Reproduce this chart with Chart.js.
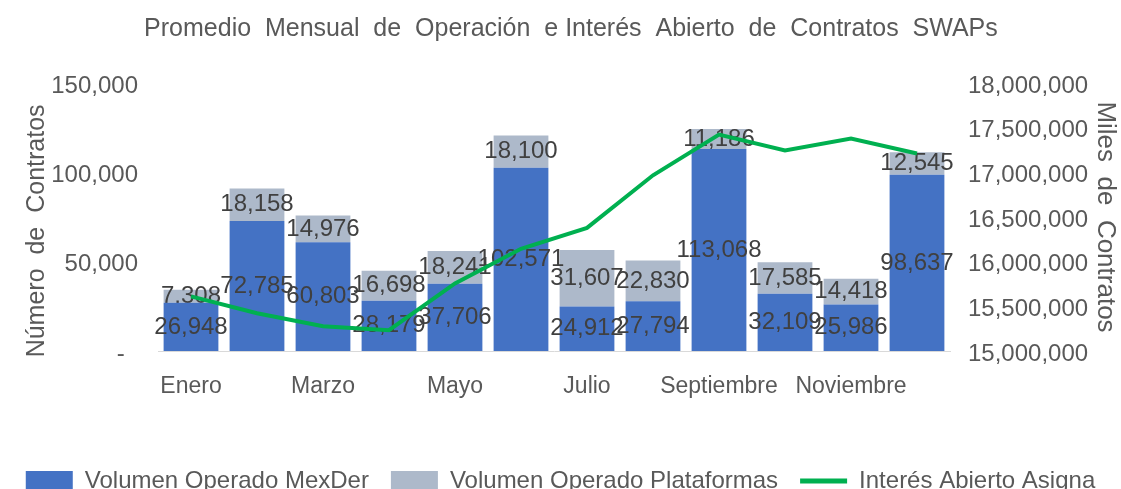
<!DOCTYPE html>
<html lang="es">
<head>
  <meta charset="utf-8">
  <title>Contratos SWAPs</title>
  <script src="https://cdn.jsdelivr.net/npm/chart.js@4.4.1/dist/chart.umd.min.js"></script>
  <style>
    html, body { margin: 0; padding: 0; background: #fff; overflow: hidden; }
    #wrap { position: relative; width: 1121px; height: 503px; }
  </style>
</head>
<body>
<div id="wrap"><canvas id="myChart"></canvas></div>
<script>
// datos
var meses = ['Enero', 'Febrero', 'Marzo', 'Abril', 'Mayo', 'Junio', 'Julio', 'Agosto',
             'Septiembre', 'Octubre', 'Noviembre', 'Diciembre'];
var volMexDer = [26948, 72785, 60803, 28179, 37706, 102571, 24912, 27794, 113068, 32109, 25986, 98637];
var volPlataformas = [7308, 18158, 14976, 16698, 18241, 18100, 31607, 22830, 11186, 17585, 14418, 12545];
var interesAbierto = [15611000, 15422000, 15278000, 15233000, 15756000, 16144000,
                      16378000, 16967000, 17422000, 17244000, 17378000, 17211000];

var FONT = "'Liberation Sans', Arial, sans-serif";
var GRIS = '#595959';

// etiquetas de valores al centro de cada segmento de barra
var etiquetas = {
  id: 'etiquetas',
  afterDatasetDraw: function(chart, args) {
    var meta = args.meta;
    if (meta.type !== 'bar') return;
    var ctx = chart.ctx;
    var data = chart.data.datasets[args.index].data;
    ctx.save();
    ctx.font = '24px ' + FONT;
    ctx.fillStyle = '#404040';
    ctx.textAlign = 'center';
    ctx.textBaseline = 'middle';
    meta.data.forEach(function(bar, i) {
      var y = (bar.y + bar.base) / 2;
      ctx.fillText(data[i].toLocaleString('en-US'), bar.x, y);
    });
    ctx.restore();
  }
};

var ctx = document.getElementById('myChart').getContext('2d');
var chart = new Chart(ctx, {
  data: {
    labels: meses,
    datasets: [
      {
        type: 'line',
        label: 'Interés Abierto Asigna',
        data: interesAbierto,
        yAxisID: 'y1',
        borderColor: '#00B050',
        backgroundColor: '#00B050',
        borderWidth: 4,
        pointRadius: 0,
        tension: 0,
        order: 0
      },
      {
        type: 'bar',
        label: 'Volumen Operado MexDer',
        data: volMexDer,
        yAxisID: 'y',
        backgroundColor: '#4472C4',
        categoryPercentage: 1,
        barPercentage: 0.83,
        order: 1
      },
      {
        type: 'bar',
        label: 'Volumen Operado Plataformas',
        data: volPlataformas,
        yAxisID: 'y',
        backgroundColor: '#ADB9CA',
        categoryPercentage: 1,
        barPercentage: 0.83,
        order: 1
      }
    ]
  },
  options: {
    responsive: true,
    maintainAspectRatio: false,
    animation: false,
    layout: { padding: 0 },
    plugins: {
      title: {
        display: true,
        text: '   Promedio  Mensual  de  Operación  e Interés  Abierto  de  Contratos  SWAPs',
        color: GRIS,
        font: { family: FONT, size: 25, weight: 'normal' },
        padding: { top: 14, bottom: 39 }
      },
      legend: {
        position: 'bottom',
        labels: {
          color: GRIS,
          font: { family: FONT, size: 24 },
          usePointStyle: true,
          pointStyleWidth: 47,
          boxHeight: 20,
          padding: 22,
          generateLabels: function(chart) {
            var orden = [1, 2, 0];
            return orden.map(function(i) {
              var ds = chart.data.datasets[i];
              var esLinea = ds.type === 'line';
              return {
                text: ds.label,
                fillStyle: ds.backgroundColor,
                strokeStyle: esLinea ? ds.borderColor : ds.backgroundColor,
                lineWidth: esLinea ? 5 : 0,
                pointStyle: esLinea ? 'line' : 'rect',
                fontColor: GRIS,
                hidden: false,
                datasetIndex: i
              };
            });
          }
        }
      },
      tooltip: { enabled: false }
    },
    scales: {
      x: {
        stacked: true,
        grid: { display: false, drawTicks: false },
        border: { display: true, color: '#D9D9D9', width: 1 },
        ticks: {
          color: GRIS,
          font: { family: FONT, size: 23 },
          padding: 22,
          autoSkip: false,
          maxRotation: 0,
          callback: function(v, i) { return i % 2 === 0 ? meses[i] : ''; }
        },
        afterFit: function(scale) { scale.height = 96; }
      },
      y: {
        stacked: true,
        position: 'left',
        min: 0,
        max: 150000,
        grid: { display: false, drawTicks: false },
        border: { display: false },
        ticks: {
          stepSize: 50000,
          color: GRIS,
          font: { family: FONT, size: 24 },
          padding: 20,
          labelOffset: 3,
          callback: function(v) { return v === 0 ? '-  ' : v.toLocaleString('en-US'); }
        },
        title: {
          display: true,
          text: 'Número  de  Contratos    ',
          color: GRIS,
          font: { family: FONT, size: 25 },
          padding: { top: 22, bottom: 0 }
        },
        afterFit: function(scale) { scale.width = 158; }
      },
      y1: {
        position: 'right',
        min: 15000000,
        max: 18000000,
        grid: { display: false, drawTicks: false },
        border: { display: false },
        ticks: {
          stepSize: 500000,
          color: GRIS,
          font: { family: FONT, size: 24 },
          padding: 18,
          labelOffset: 3,
          callback: function(v) { return v.toLocaleString('en-US'); }
        },
        title: {
          display: true,
          text: 'Miles  de  Contratos',
          color: GRIS,
          font: { family: FONT, size: 26 },
          padding: { top: 0, bottom: 0 }
        },
        afterFit: function(scale) { scale.width = 171; }
      }
    }
  },
  plugins: [etiquetas]
});
</script>
</body>
</html>
